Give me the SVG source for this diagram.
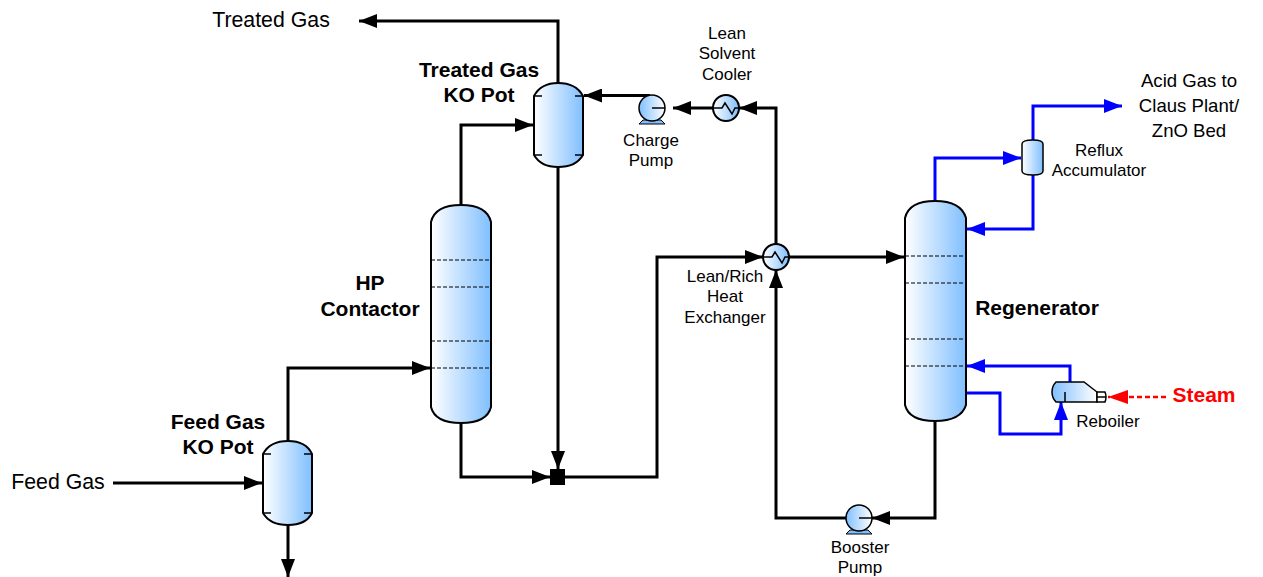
<svg xmlns="http://www.w3.org/2000/svg" width="1263" height="577" viewBox="0 0 1263 577">
<style>
text{font-family:"Liberation Sans",Arial,sans-serif;fill:#000;text-anchor:middle}
.l{font-size:17px}.m{font-size:21.3px}.a{font-size:18.6px}.b{font-size:21px;font-weight:bold}
.v{fill:url(#g);stroke:#000;stroke-width:2}
.p{fill:url(#gr);stroke:#000;stroke-width:1.500}
.in{fill:none;stroke:#000;stroke-width:1.5}
.tray{fill:none;stroke:#000;stroke-width:1;stroke-dasharray:4 2}
.k,.u,.r{fill:none;stroke-width:3;stroke-linejoin:miter}
.k{stroke:#000;marker-end:url(#ak)}.u{stroke:#00f;marker-end:url(#au)}
.r{stroke:#f00;stroke-width:2.5;stroke-dasharray:5 3;marker-end:url(#ar)}
</style>
<defs>
<linearGradient id="g" x1="0" x2="1" y1="0" y2="0"><stop offset="0" stop-color="#fff"/><stop offset="1" stop-color="#80bfff"/></linearGradient>
<linearGradient id="gr" x1="0" x2="1" y1="0" y2="0"><stop offset="0" stop-color="#80bfff"/><stop offset="1" stop-color="#fff"/></linearGradient>
<marker id="ak" markerUnits="userSpaceOnUse" markerWidth="18" markerHeight="14" refX="18" refY="7" orient="auto"><path d="M0 0L18 7L0 14Z" fill="#000"/></marker>
<marker id="au" markerUnits="userSpaceOnUse" markerWidth="18" markerHeight="14" refX="18" refY="7" orient="auto"><path d="M0 0L18 7L0 14Z" fill="#00f"/></marker>
<marker id="ar" markerUnits="userSpaceOnUse" markerWidth="20" markerHeight="14" refX="20" refY="7" orient="auto"><path d="M0 0L20 7L0 14Z" fill="#f00"/></marker>
</defs>
<g id="connectors">
<path class="k" d="M113 483H262"/>
<path class="k" d="M288 525V577"/>
<path class="k" d="M288 441V368H430"/>
<path class="k" d="M461 205V125H533"/>
<path class="k" d="M558 83V21H359"/>
<path class="k" d="M558 167L558 469"/>
<path class="k" d="M461 423V477H550"/>
<path class="k" d="M565 477H657V257H763"/>
<path class="k" d="M789 257H904"/>
<path class="k" d="M776 244V108H739"/>
<path class="k" d="M713 108H673"/>
<path class="k" d="M650 95.500H584"/>
<path class="k" d="M935 421V518H872"/>
<path class="k" d="M846 518H776V270"/>
<path class="u" d="M935 201V158H1021"/>
<path class="u" d="M1033 140V106H1122"/>
<path class="u" d="M1033 175V229H967"/>
<path class="u" d="M1070 382V366H967"/>
<path class="u" d="M966 393H1000V434H1061V402"/>
<path class="r" d="M1166 397H1108"/>
</g>
<g id="feed-ko-pot"><path class="v" d="M263 454Q270 441 288 441Q306 441 312 454V513Q306 525 288 525Q270 525 263 513Z"/><path class="in" d="M263 454H271M304 454H312M263 513H271M304 513H312"/></g>
<g id="hp-contactor"><path class="v" d="M431 222Q435 205 461 205Q487 205 491 222V407Q487 423 461 423Q435 423 431 407Z"/><path class="tray" d="M431 260H491M431 287H491M431 341H491M431 368H491"/></g>
<g id="treated-ko-pot"><path class="v" d="M534 96Q541 83 558 83Q576 83 583 96V155Q576 167 558 167Q541 167 534 155Z"/><path class="in" d="M534 96H542M575 96H583M534 155H542M575 155H583"/></g>
<g id="charge-pump"><path d="M639 124L643 120H661L665 124Z" fill="#80bfff" stroke="#000"/><circle class="p" cx="652" cy="108" r="13"/><path class="in" d="M652 108H665"/></g>
<g id="lean-cooler"><circle class="v" cx="726" cy="108" r="13"/><path class="in" d="M713 108H722L725 103L732 114L735 108H739"/></g>
<g id="lean-rich-hx"><circle class="v" cx="776" cy="257" r="13"/><path class="in" d="M763 257H772L775 252L782 263L785 257H789"/></g>
<g id="regenerator"><path class="v" d="M905 218Q909 201 935 201Q961 201 966 218V405Q961 421 935 421Q909 421 905 405Z"/><path class="tray" d="M905 256H966M905 283H966M905 339H966M905 366H966"/></g>
<g id="reflux-accumulator"><path d="M1022 144Q1022 140 1033 140Q1043 140 1043 144V171Q1043 175 1033 175Q1022 175 1022 171Z" fill="url(#g)" stroke="#000" stroke-width="1.500"/></g>
<g id="reboiler"><path d="M1056 382H1084L1097 392V402H1056Q1052 398 1052 392Q1052 386 1056 382Z" fill="url(#gr)" stroke="#000" stroke-width="1.500"/><path d="M1097 392H1105Q1107 397 1105 402H1097ZM1097 397H1106M1065 392V402" fill="#fff" stroke="#000" stroke-width="1.500"/></g>
<g id="booster-pump"><path d="M846 534L850 530H868L872 534Z" fill="#80bfff" stroke="#000"/><circle class="p" cx="859" cy="518" r="13"/><path class="in" d="M859 518H872"/></g>
<g id="mixer"><rect x="550" y="469" width="15" height="16" fill="#000"/></g>
<g id="labels">
<text class="m" x="271" y="27">Treated Gas</text>
<text class="m" x="58" y="489">Feed Gas</text>
<text class="b" x="479" y="77">Treated Gas</text><text class="b" x="479" y="102">KO Pot</text>
<text class="b" x="218" y="429">Feed Gas</text><text class="b" x="218" y="454">KO Pot</text>
<text class="b" x="370" y="290">HP</text><text class="b" x="370" y="316">Contactor</text>
<text class="b" x="1037" y="315">Regenerator</text>
<text class="l" x="727" y="39">Lean</text><text class="l" x="727" y="59">Solvent</text><text class="l" x="727" y="80">Cooler</text>
<text class="l" x="651" y="146">Charge</text><text class="l" x="651" y="166">Pump</text>
<text class="l" x="725" y="282">Lean/Rich</text><text class="l" x="725" y="302">Heat</text><text class="l" x="725" y="323">Exchanger</text>
<text class="l" x="1099" y="156">Reflux</text><text class="l" x="1099" y="176">Accumulator</text>
<text class="l" x="1108" y="427">Reboiler</text>
<text class="l" x="860" y="553">Booster</text><text class="l" x="860" y="573">Pump</text>
<text class="a" x="1189" y="87">Acid Gas to</text><text class="a" x="1189" y="112">Claus Plant/</text><text class="a" x="1189" y="137">ZnO Bed</text>
<text class="b" x="1204" y="402" style="fill:#f00">Steam</text>
</g>
</svg>
